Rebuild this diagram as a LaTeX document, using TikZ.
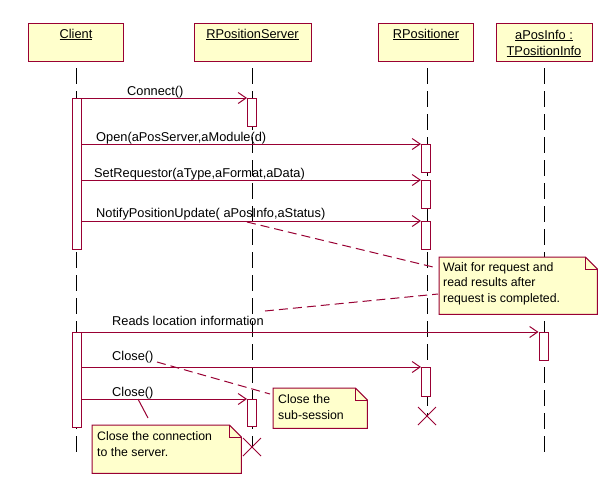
\documentclass[tikz,border=0pt]{standalone}
\usepackage{fontspec}
\setmainfont{Liberation Sans}
\usetikzlibrary{arrows.meta}
\definecolor{umlred}{RGB}{153,0,51}
\definecolor{umlfill}{RGB}{255,255,204}
\begin{document}
\begin{tikzpicture}[x=1pt,y=-1pt,
  every node/.style={font=\fontsize{12.8}{16}\selectfont},
  objbox/.style={draw=umlred, fill=umlfill, line width=1pt, inner sep=0pt, minimum height=38pt},
  objlabel/.style={anchor=base, inner sep=0pt, align=center},
  actbox/.style={draw=umlred, fill=white, line width=1pt, minimum width=9pt, inner sep=0pt, anchor=north},
  lifeline/.style={draw=black, line width=1pt, dash pattern=on 16pt off 7pt},
  msg/.style={draw=umlred, line width=1pt, -{Straight Barb[length=8pt,width=11pt]}},
  msglabel/.style={anchor=base west, inner sep=0pt},
  notelink/.style={draw=umlred, line width=1pt, dash pattern=on 9pt off 5pt},
  notetext/.style={anchor=base west, inner sep=0pt, align=left, font=\fontsize{12.3}{15.5}\selectfont},
  noteframe/.style={anchor=north west, inner sep=0pt},
  notebox/.style={draw=umlred, fill=umlfill, line width=1pt},
  notefold/.style={draw=umlred, line width=1pt},
  destroy/.style={draw=umlred, line width=1pt}
]
\useasboundingbox[fill=white] (0,0) rectangle (611,483);

% objects
\node[objbox, minimum width=95pt] (client) at (75.5,42) {};
\node[objbox, minimum width=117pt] (server) at (252.5,42) {};
\node[objbox, minimum width=95pt] (positioner) at (425.5,42) {};
\node[objbox, minimum width=96pt] (info) at (544,42) {};
\node[objlabel] (clientlbl) at (76,38) {\underline{Client}};
\node[objlabel] (serverlbl) at (252.5,38) {\underline{RPositionServer}};
\node[objlabel] (positionerlbl) at (426,38) {\underline{RPositioner}};
\node[objlabel] (infolbl) at (544,55) {\underline{aPosInfo :}\\\underline{TPositionInfo}};

% message labels
\node[msglabel] (l1) at (127,95) {Connect()};
\node[msglabel] (l2) at (96,141) {Open(aPosServer,aModule(d)};
\node[msglabel] (l3) at (94,177) {SetRequestor(aType,aFormat,aData)};
\node[msglabel] (l4) at (96,217) {NotifyPositionUpdate( aPosInfo,aStatus)};
\node[msglabel] (l5) at (112,325) {Reads location information};
\node[msglabel] (l6) at (112,360) {Close()};
\node[msglabel] (l7) at (112,396) {Close()};

% lifelines
\coordinate (cTop) at (76,68);  \coordinate (cBot) at (76,457);
\coordinate (sTop) at (252,68); \coordinate (sX) at (252,447);
\coordinate (pTop) at (427,68); \coordinate (pX) at (427,416);
\coordinate (iTop) at (544,68); \coordinate (iBot) at (544,457);
\draw[lifeline] (cTop) -- (cBot);
\draw[lifeline] (sTop) -- (sX);
\draw[lifeline] (pTop) -- (pX);
\draw[lifeline] (iTop) -- (iBot);

% activations
\node[actbox, minimum height=151pt] (ca1) at (76.5,98) {};
\node[actbox, minimum height=95pt] (ca2) at (76.5,332) {};
\node[actbox, minimum height=28pt] (sa1) at (252,98) {};
\node[actbox, minimum height=27pt] (sa2) at (252,399) {};
\node[actbox, minimum height=28pt] (pa1) at (426,144) {};
\node[actbox, minimum height=28pt] (pa2) at (426,180) {};
\node[actbox, minimum height=28pt] (pa3) at (426,221) {};
\node[actbox, minimum height=29pt] (pa4) at (426,367) {};
\node[actbox, minimum height=28pt] (ia1) at (543.5,332) {};

% messages
\draw[msg] (ca1.north east) -- (sa1.north west);
\draw[msg] (ca1.east |- pa1.north) -- (pa1.north west);
\draw[msg] (ca1.east |- pa2.north) -- (pa2.north west);
\draw[msg] (ca1.east |- pa3.north) -- (pa3.north west);
\draw[msg] (ca2.north east) -- (ia1.north west);
\draw[msg] (ca2.east |- pa4.north) -- (pa4.north west);
\draw[msg] (ca2.east |- sa2.north) -- (sa2.north west);

% destroy marks
\draw[destroy] ([shift={(-9pt,9pt)}]pX) -- ([shift={(9pt,-9pt)}]pX);
\draw[destroy] ([shift={(-9pt,-9pt)}]pX) -- ([shift={(9pt,9pt)}]pX);
\draw[destroy] ([shift={(-9pt,9pt)}]sX) -- ([shift={(9pt,-9pt)}]sX);
\draw[destroy] ([shift={(-9pt,-9pt)}]sX) -- ([shift={(9pt,9pt)}]sX);

% note links
\coordinate (d1a) at (247,222); \coordinate (d1b) at (433,267);
\coordinate (d2a) at (265,311); \coordinate (d2b) at (438,294);
\coordinate (d3a) at (157,362); \coordinate (d3b) at (270,394);
\coordinate (d4a) at (138,399); \coordinate (d4b) at (148,418);
\draw[notelink] (d1a) -- (d1b);
\draw[notelink] (d2a) -- (d2b);
\draw[notelink] (d3a) -- (d3b);
\draw[draw=umlred, line width=1pt] (d4a) -- (d4b);

% notes
\node[noteframe, minimum width=158pt, minimum height=57pt] (n1) at (439,257) {};
\node[noteframe, minimum width=94pt, minimum height=40pt] (n2) at (273,388) {};
\node[noteframe, minimum width=149pt, minimum height=48pt] (n3) at (92,425) {};
\foreach \n in {n1,n2,n3}{
  \draw[notebox] (\n.south west) -- (\n.north west) -- ([xshift=-12pt]\n.north east)
     -- ([yshift=-12pt]\n.north east) -- (\n.south east) -- cycle;
  \draw[notefold] ([xshift=-12pt]\n.north east) -- ([xshift=-12pt,yshift=-12pt]\n.north east)
     -- ([yshift=-12pt]\n.north east);
}
\node[notetext] (n1t) at (443,302) {Wait for request and\\read results after\\request is completed.};
\node[notetext] (n2t) at (278,419) {Close the\\sub-session};
\node[notetext] (n3t) at (97,456) {Close the connection\\to the server.};
\end{tikzpicture}
\end{document}
